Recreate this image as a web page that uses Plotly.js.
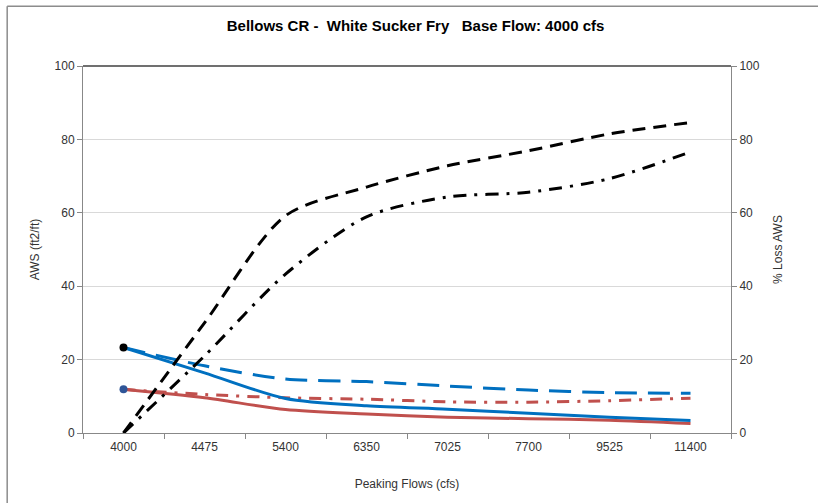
<!DOCTYPE html>
<html>
<head>
<meta charset="utf-8">
<script src="https://cdn.plot.ly/plotly-3.0.1.min.js"></script>
<style>html,body{margin:0;padding:0;background:#fff;}#chart{width:818px;height:503px;}</style>
</head>
<body>
<div id="chart"></div>
<script>
// Categories (peaking flows, cfs)
const categories = ["4000", "4475", "5400", "6350", "7025", "7700", "9525", "11400"];
// AWS (ft2/ft) – left axis
const awsBlueSolid  = [23.3, 16.4, 9.4, 7.4, 6.5, 5.4, 4.3, 3.4];
const awsBlueDashed = [23.3, 18.3, 14.7, 14.0, 12.8, 11.7, 11.0, 10.8];
const awsRedSolid   = [11.9, 9.6, 6.4, 5.2, 4.3, 3.9, 3.5, 2.6];
const awsRedDashDot = [11.9, 10.5, 9.6, 9.2, 8.5, 8.4, 8.8, 9.5];
// % Loss AWS – right axis
const lossDashed  = [0, 30.0, 59.2, 67.0, 72.8, 76.9, 81.5, 84.6];
const lossDashDot = [0, 21.0, 43.3, 58.9, 64.3, 65.6, 69.3, 76.6];
const yTicks = [0, 20, 40, 60, 80, 100];

const FONT = "Liberation Sans, Arial, sans-serif";
const spline = (color, dash, width) => ({color: color, dash: dash, width: width, shape: "spline", smoothing: 0.8});

const traces = [
  {x: categories, y: lossDashed, yaxis: "y2", mode: "lines", line: spline("#000000", "13px,8px", 3), hoverinfo: "skip"},
  {x: categories, y: lossDashDot, yaxis: "y2", mode: "lines", line: spline("#000000", "13px,8px,3px,8px", 3), hoverinfo: "skip"},
  {x: categories, y: awsBlueDashed, mode: "lines", line: spline("#0070C0", "22px,11px", 3), hoverinfo: "skip"},
  {x: categories, y: awsRedDashDot, mode: "lines", line: spline("#C0504D", "12px,8px,3px,8px", 3), hoverinfo: "skip"},
  {x: categories, y: awsRedSolid, mode: "lines", line: spline("#C0504D", "solid", 3), hoverinfo: "skip"},
  {x: categories, y: awsBlueSolid, mode: "lines", line: spline("#0070C0", "solid", 3), hoverinfo: "skip"},
  {x: [categories[0]], y: [awsBlueSolid[0]], mode: "markers", marker: {color: "#000000", size: 8}, hoverinfo: "skip"},
  {x: [categories[0]], y: [awsRedSolid[0]], mode: "markers", marker: {color: "#2F5597", size: 8}, hoverinfo: "skip"}
];

const tickFont = {family: FONT, size: 12, color: "#333333"};
const titleFont = {family: FONT, size: 12, color: "#333333"};
const layout = {
  width: 818, height: 503,
  margin: {l: 83, r: 87, t: 66, b: 70},
  paper_bgcolor: "#ffffff", plot_bgcolor: "#ffffff",
  showlegend: false,
  title: {text: "Bellows CR -\u00a0\u00a0White Sucker Fry\u00a0\u00a0\u00a0Base Flow: 4000 cfs",
          font: {family: FONT, size: 15, color: "#000000", weight: "bold"}, x: 0.508, xanchor: "center", y: 0.948, yanchor: "middle"},
  xaxis: {type: "category", tickson: "boundaries", ticks: "outside", ticklen: 5, tickcolor: "#888888",
          showline: true, linecolor: "#888888", linewidth: 1, showgrid: false, zeroline: false,
          ticklabelstandoff: 3,
          tickfont: tickFont, title: {text: "Peaking Flows (cfs)", font: titleFont, standoff: 26},
          range: [-0.5, 7.5], fixedrange: true},
  yaxis: {range: [0, 100], tickvals: yTicks, ticks: "outside", ticklen: 5, tickcolor: "#888888",
          showline: true, linecolor: "#888888", linewidth: 1, showgrid: true, gridcolor: "#D9D9D9", zeroline: false,
          tickfont: tickFont, title: {text: "AWS (ft2/ft)", font: titleFont, standoff: 12}},
  yaxis2: {range: [0, 100], tickvals: yTicks, overlaying: "y", side: "right", ticks: "outside", ticklen: 5, tickcolor: "#888888",
          showline: true, linecolor: "#888888", linewidth: 1, showgrid: false, zeroline: false,
          tickfont: tickFont, title: {text: "% Loss AWS", font: titleFont, standoff: 14}},
  shapes: [
    {type: "line", xref: "paper", yref: "paper", x0: 0, x1: 1, y0: 1, y1: 1, line: {color: "#404040", width: 1.5}},
    {type: "line", xref: "paper", yref: "paper", x0: -0.117, x1: -0.117, y0: -0.3, y1: 1.163, line: {color: "#8c8c8c", width: 1.5}},
    {type: "line", xref: "paper", yref: "paper", x0: -0.117, x1: 1.5, y0: 1.163, y1: 1.163, line: {color: "#8c8c8c", width: 1.5}}
  ]
};

Plotly.newPlot("chart", traces, layout, {staticPlot: true, displayModeBar: false});
</script>
</body>
</html>
